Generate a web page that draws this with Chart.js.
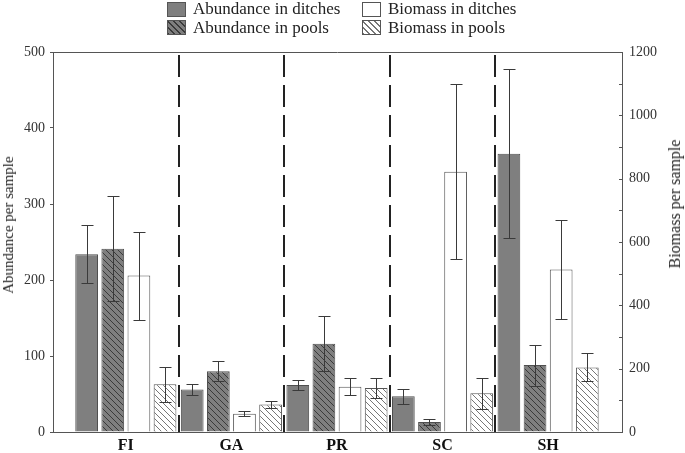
<!DOCTYPE html>
<html>
<head>
<meta charset="utf-8">
<script src="https://cdn.jsdelivr.net/npm/chart.js@4.4.0/dist/chart.umd.min.js"></script>
<style>
  body { margin: 0; background: #fff; }
  #wrap { position: relative; width: 685px; height: 453px; font-family: 'Liberation Serif', 'Times New Roman', serif; color: #222; }
  #chart { position: absolute; left: 0; top: 0; }
  .key { position: absolute; font-size: 17px; line-height: 17px; white-space: nowrap; }
  .box { position: absolute; width: 19px; height: 15px; border: 1px solid #555; box-sizing: border-box; }
  .ytitle { position: absolute; font-size: 16px; line-height: 16px; white-space: nowrap; color: #222;
            transform: translate(-50%, -50%) rotate(-90deg); }
</style>
</head>
<body>
<div id="wrap">
  <canvas id="chart" width="685" height="453"></canvas>

  <div class="box" style="left:167px; top:2px; background:#7f7f7f;"></div>
  <div class="key" style="left:193px; top:0px;">Abundance in ditches</div>
  <div class="box" style="left:167px; top:20px; background:repeating-linear-gradient(45deg, #3a3a3a 0 1px, #7f7f7f 1px 4.2px);"></div>
  <div class="key" style="left:193px; top:19px;">Abundance in pools</div>
  <div class="box" style="left:362px; top:2px; background:#fff;"></div>
  <div class="key" style="left:388px; top:0px;">Biomass in ditches</div>
  <div class="box" style="left:362px; top:20px; background:repeating-linear-gradient(45deg, #777 0 1px, #fff 1px 4.2px);"></div>
  <div class="key" style="left:388px; top:19px;">Biomass in pools</div>

  <div class="ytitle" style="left:8px; top:225px; font-size:15px;">Abundance per sample</div>
  <div class="ytitle" style="left:675px; top:204px;">Biomass per sample</div>
</div>

<script>
// data (means and error half-widths)
const categories = ['FI', 'GA', 'PR', 'SC', 'SH'];

const abundanceDitches    = [234, 56, 62, 47, 366];
const abundanceDitchesErr = [38, 7, 7, 10, 111];
const abundancePools      = [241, 80, 116, 13, 88];
const abundancePoolsErr   = [69, 13, 36, 4, 27];

const biomassDitches      = [494, 58, 143, 822, 513];
const biomassDitchesErr   = [139, 7, 27, 276, 157];
const biomassPools        = [151, 87, 139, 122, 204];
const biomassPoolsErr     = [55, 12, 32, 48, 44];

const abundanceTicks = [0, 100, 200, 300, 400, 500];
const biomassTicks   = [0, 200, 400, 600, 800, 1000, 1200];

const serif = "'Liberation Serif', 'Times New Roman', serif";

function hatch(bg, line) {
  const c = document.createElement('canvas');
  c.width = 6; c.height = 6;
  const g = c.getContext('2d');
  g.fillStyle = bg;
  g.fillRect(0, 0, 6, 6);
  g.strokeStyle = line;
  g.lineWidth = 1;
  g.beginPath();
  g.moveTo(-1, -1); g.lineTo(7, 7);
  g.moveTo(-1, 5); g.lineTo(1, 7);
  g.moveTo(5, -1); g.lineTo(7, 1);
  g.stroke();
  return g.createPattern(c, 'repeat');
}

const toPoints = vals => vals.map((v, i) => ({ x: i, y: v }));

const errorBars = {
  id: 'errorBars',
  afterDatasetsDraw(chart) {
    const ctx = chart.ctx;
    const area = chart.chartArea;
    const xs = chart.scales.x;
    ctx.save();
    // dashed separators between groups
    ctx.strokeStyle = '#222';
    ctx.lineWidth = 2;
    ctx.setLineDash([22, 8]);
    for (let i = 0; i < categories.length - 1; i++) {
      const x = Math.round(xs.getPixelForValue(i + 0.5));
      ctx.beginPath();
      ctx.moveTo(x, area.top + 3);
      ctx.lineTo(x, area.bottom);
      ctx.stroke();
    }
    ctx.setLineDash([]);
    // error bars
    ctx.strokeStyle = '#3a3a3a';
    ctx.lineWidth = 1;
    chart.data.datasets.forEach((ds, di) => {
      const meta = chart.getDatasetMeta(di);
      const scale = chart.scales[meta.yAxisID];
      meta.data.forEach((bar, i) => {
        const v = ds.data[i].y, e = ds.errors[i];
        const x = Math.round(bar.x) + 0.5;
        const y1 = Math.round(scale.getPixelForValue(v + e)) + 0.5;
        const y2 = Math.round(scale.getPixelForValue(v - e)) + 0.5;
        ctx.beginPath();
        ctx.moveTo(x, y1); ctx.lineTo(x, y2);
        ctx.moveTo(x - 6, y1); ctx.lineTo(x + 6, y1);
        ctx.moveTo(x - 6, y2); ctx.lineTo(x + 6, y2);
        ctx.stroke();
      });
    });
    ctx.restore();
  },
  afterDraw(chart) {
    const ctx = chart.ctx;
    const area = chart.chartArea;
    const y1 = chart.scales.y1;
    ctx.save();
    ctx.strokeStyle = '#555';
    ctx.lineWidth = 1;
    ctx.beginPath();
    ctx.moveTo(area.left, area.top + 0.5);
    ctx.lineTo(area.right, area.top + 0.5);
    // inward ticks on the right axis
    y1.ticks.forEach(t => {
      const y = Math.round(y1.getPixelForValue(t.value)) + 0.5;
      ctx.moveTo(area.right - 3, y);
      ctx.lineTo(area.right, y);
    });
    ctx.stroke();
    ctx.restore();
  }
};

new Chart(document.getElementById('chart'), {
  type: 'bar',
  data: {
    datasets: [
      {
        label: 'Abundance in ditches',
        data: toPoints(abundanceDitches),
        errors: abundanceDitchesErr,
        yAxisID: 'y',
        backgroundColor: '#7f7f7f',
        borderColor: '#4f4f4f',
        borderWidth: 1
      },
      {
        label: 'Abundance in pools',
        data: toPoints(abundancePools),
        errors: abundancePoolsErr,
        yAxisID: 'y',
        backgroundColor: hatch('#7f7f7f', '#3a3a3a'),
        borderColor: '#4f4f4f',
        borderWidth: 1
      },
      {
        label: 'Biomass in ditches',
        data: toPoints(biomassDitches),
        errors: biomassDitchesErr,
        yAxisID: 'y1',
        backgroundColor: '#ffffff',
        borderColor: '#555',
        borderWidth: 1
      },
      {
        label: 'Biomass in pools',
        data: toPoints(biomassPools),
        errors: biomassPoolsErr,
        yAxisID: 'y1',
        backgroundColor: hatch('#ffffff', '#777'),
        borderColor: '#555',
        borderWidth: 1
      }
    ]
  },
  options: {
    responsive: false,
    animation: false,
    layout: { padding: { top: 52, left: 0, right: 0, bottom: 0 } },
    datasets: {
      bar: { categoryPercentage: 0.99, barPercentage: 0.87 }
    },
    plugins: {
      legend: { display: false },
      tooltip: { enabled: false }
    },
    scales: {
      x: {
        type: 'linear',
        min: -0.69,
        max: 4.70,
        offset: false,
        afterFit: s => { s.height = 21; },
        afterBuildTicks: s => { s.ticks = categories.map((c, i) => ({ value: i })); },
        grid: { display: false, drawTicks: false },
        border: { color: '#555', width: 1 },
        ticks: {
          autoSkip: false,
          maxRotation: 0,
          padding: 4,
          color: '#111',
          font: { family: serif, size: 16, weight: 'bold' },
          callback: v => categories[v]
        }
      },
      y: {
        position: 'left',
        min: 0,
        max: 500,
        afterFit: s => { s.width = 53; },
        afterBuildTicks: s => { s.ticks = abundanceTicks.map(v => ({ value: v })); },
        grid: { drawOnChartArea: false, drawTicks: true, tickLength: 3, color: '#555' },
        border: { color: '#555', width: 1 },
        ticks: { autoSkip: false, padding: 5, color: '#333', font: { family: serif, size: 14 } }
      },
      y1: {
        position: 'right',
        min: 0,
        max: 1200,
        afterFit: s => { s.width = 63; },
        grid: { drawOnChartArea: false, drawTicks: false },
        border: { color: '#555', width: 1 },
        ticks: {
          stepSize: 100,
          autoSkip: false,
          padding: 7,
          color: '#333',
          font: { family: serif, size: 14 },
          callback: v => (biomassTicks.includes(v) ? v : '')
        }
      }
    }
  },
  plugins: [errorBars]
});
</script>
</body>
</html>
